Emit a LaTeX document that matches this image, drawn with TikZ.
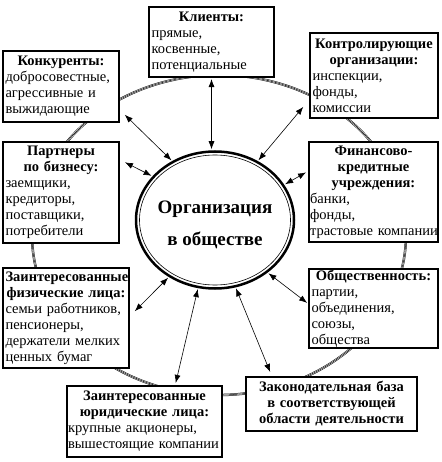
\documentclass[tikz,border=0pt]{standalone}
\usepackage{fontspec}
\setmainfont{Liberation Serif}
\usetikzlibrary{arrows.meta,calc,shapes.geometric}
\newcommand{\bxt}[2]{{\centering\bfseries #1\par}#2}
\begin{document}
\begin{tikzpicture}[x=1pt,y=-1pt,
 box/.style={draw, line width=2.2pt, fill=white, rectangle, inner xsep=2pt, inner ysep=1pt, align=left, font=\fontsize{14.5}{16}\selectfont},
 ring/.style={line width=0.5pt, preaction={draw, line width=0.5pt, double=white, double distance=1.4pt}},
 arr/.style={{Latex[length=8pt,width=6pt]}-{Latex[length=8pt,width=6pt]}, line width=0.6pt, shorten <=1pt, shorten >=1pt},
]
\useasboundingbox (0,0) rectangle (441,462);
% outer ring
\draw[ring] (219,235) ellipse [x radius=187, y radius=160];
% boxes
\node[box, minimum width=125pt, minimum height=70pt, text width=120pt] (kl) at (211.5,42)
  {\bxt{Клиенты:}{прямые,\\косвенные,\\потенциальные}};
\node[box, minimum width=116pt, minimum height=71pt, text width=111pt] (konk) at (61,86.5)
  {\bxt{Конкуренты:}{добросовестные,\\агрессивные и\\выжидающие}};
\node[box, minimum width=128pt, minimum height=85pt, text width=123pt] (kontr) at (374,75.5)
  {\bxt{Контролирующие\\организации:}{инспекции,\\фонды,\\комиссии}};
\node[box, minimum width=116pt, minimum height=101pt, text width=111pt] (part) at (61,192.5)
  {\bxt{Партнеры\\по бизнесу:}{заемщики,\\кредиторы,\\поставщики,\\потребители}};
\node[box, minimum width=129pt, minimum height=100pt, text width=127pt, inner xsep=1pt] (fin) at (373.5,192)
  {\bxt{Финансово-\\кредитные\\учреждения:}{банки,\\фонды,\\\mbox{трастовые компании}}};
\node[box, minimum width=129pt, minimum height=79pt, text width=124pt] (obs) at (373.5,308.5)
  {\bxt{Общественность:}{партии,\\объединения,\\союзы,\\общества}};
\node[box, minimum width=126pt, minimum height=100pt, text width=121pt] (fiz) at (66,318)
  {\bxt{Заинтересованные\\физические лица:}{семьи работников,\\пенсионеры,\\держатели мелких\\ценных бумаг}};
\node[box, minimum width=155pt, minimum height=71pt, text width=153pt, inner xsep=1pt] (yur) at (144.5,421.5)
  {\bxt{Заинтересованные\\юридические лица:}{крупные акционеры,\\\mbox{вышестоящие компании}}};
\node[box, minimum width=171pt, minimum height=54pt, text width=166pt] (zak) at (331.5,404)
  {\bxt{Законодательная база\\в соответствующей\\области деятельности}{}};
% central ellipse
\node[ellipse, draw, line width=2.5pt, minimum width=158pt, minimum height=137pt, inner sep=0pt] (org) at (215,220) {};
\draw[line width=0.6pt] (org.center) ellipse [x radius=75.5, y radius=65];
\node[font=\fontsize{19}{32}\selectfont\bfseries, align=center] (orgt) at (215,225) {Организация\\в обществе};
% arrows
\draw[arr] (kl.south) -- (kl.south |- org.north);
\draw[arr] ($(konk.south east)+(4,-9)$) -- (org.126);
\draw[arr] ($(kontr.south west)+(-5,-13)$) -- (org.54);
\draw[arr] ($(part.north east)+(4,21)$) -- (org.145);
\draw[arr] ($(fin.north west)+(-1,31)$) -- (org.27);
\draw[arr] ($(obs.west)+(0,-5)$) -- (org.-45);
\draw[arr] ($(fiz.north east)+(4,45)$) -- (org.231);
\draw[arr] ($(yur.north)+(31,-1)$) -- (org.256);
\draw[arr] ($(zak.north)+(-61,-3)$) -- (org.287);
\end{tikzpicture}
\end{document}
